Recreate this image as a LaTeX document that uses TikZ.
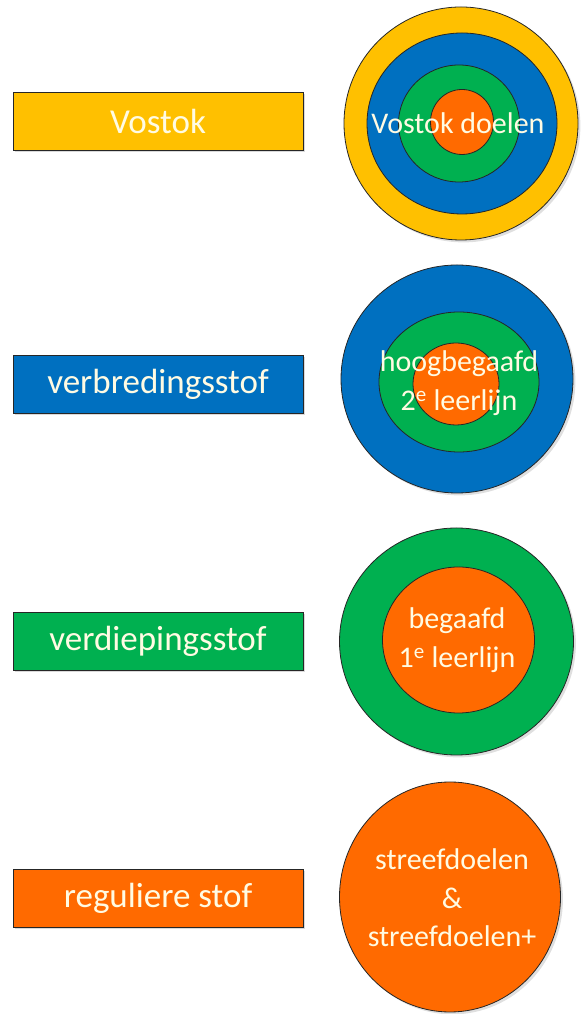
\documentclass[tikz,border=0pt]{standalone}
\usepackage{fontspec}
\setmainfont{Carlito}
\usetikzlibrary{shadows, shapes.geometric}
\definecolor{vyellow}{HTML}{FFC000}
\definecolor{vblue}{HTML}{0070C0}
\definecolor{vgreen}{HTML}{00B050}
\definecolor{vorange}{HTML}{FF6A00}
\definecolor{cream}{HTML}{FFFBE3}
\begin{document}
\begin{tikzpicture}[x=1pt,
				y=1pt,
				labelbox/.style={draw=black!85, line width=0.8pt, inner sep=0pt,
					minimum width=290pt, minimum height=58pt, text=cream,
					font=\fontsize{35}{42}\selectfont,
					drop shadow={opacity=0.3, shadow xshift=1.5pt, shadow yshift=-2pt}},
				ring/.style={ellipse, draw=black!85, line width=0.8pt, inner sep=0pt},
				ringtext/.style={text=cream, align=center, font=\fontsize{30}{38.5}\selectfont}]
				\useasboundingbox (0,0) rectangle (582,1014);
				% labels on the left
				\node at (158,892.5) (vostok) [labelbox, fill=vyellow] {Vostok};
				\node at (158,630) (verbreding) [labelbox, fill=vblue] {verbredingsstof};
				\node at (158,373) (verdieping) [labelbox, fill=vgreen] {verdiepingsstof};
				\node at (158,116) (regulier) [labelbox, fill=vorange] {reguliere stof};
				% Vostok target
				\node at (461,890.5) (vy) [ring, fill=vyellow, minimum width=234pt, minimum height=233pt, drop shadow={opacity=0.25}] {};
				\node at (462,890.5) (vb) [ring, fill=vblue, minimum width=190pt, minimum height=181pt] {};
				\node at (459,890.5) (vg) [ring, fill=vgreen, minimum width=121pt, minimum height=117pt] {};
				\node at (462,892) (vo) [ring, fill=vorange, minimum width=63pt, minimum height=65pt] {};
				\node at (458,891) (vtext) [ringtext] {Vostok doelen};
				% verbreding target
				\node at (457,635) (hb) [ring, fill=vblue, minimum width=232pt, minimum height=228pt, drop shadow={opacity=0.25}] {};
				\node at (459,632) (hg) [ring, fill=vgreen, minimum width=160pt, minimum height=140pt] {};
				\node at (456,630) (ho) [ring, fill=vorange, minimum width=86pt, minimum height=82pt] {};
				\node at (459,631) (htext) [ringtext] {hoogbegaafd\\2\textsuperscript{e} leerlijn};
				% verdieping target
				\node at (456.5,372.5) (bg) [ring, fill=vgreen, minimum width=234pt, minimum height=227pt, drop shadow={opacity=0.25}] {};
				\node at (458.5,374) (bo) [ring, fill=vorange, minimum width=152pt, minimum height=146pt] {};
				\node at (457,374) (btext) [ringtext] {begaafd\\1\textsuperscript{e} leerlijn};
				% reguliere target
				\node at (450,117) (so) [ring, fill=vorange, minimum width=221pt, minimum height=230pt, drop shadow={opacity=0.25}] {};
				\node at (452,116) (stext) [ringtext] {streefdoelen\\\&\\streefdoelen+};
			\end{tikzpicture}
\end{document}
